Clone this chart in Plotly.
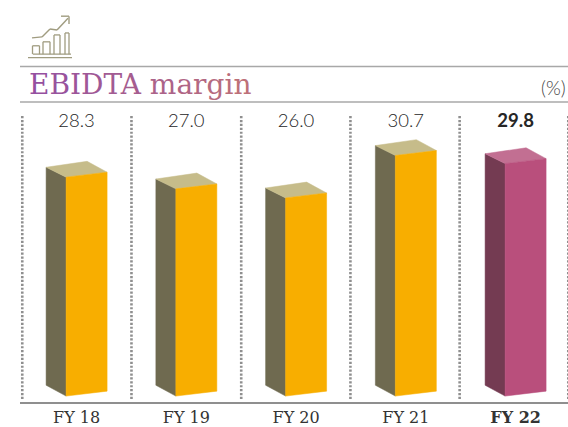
import plotly.graph_objects as go

categories = ["FY 18", "FY 19", "FY 20", "FY 21", "FY 22"]
values = [28.3, 27.0, 26.0, 30.7, 29.8]
value_labels = ["28.3", "27.0", "26.0", "30.7", "29.8"]
highlight = "FY 22"
title_text = "EBIDTA margin"
unit_text = "(%)"

W, H = 568, 427
L, R, T, B = 20, 0, 104, 21
X0_PX, PX_PER_CAT = 76.6, 109.75
BASE_PX, PX_PER_UNIT, BASE_VAL = 395, 9.15, 4.05

def fx(px):  # pixel offset -> category units
    return px / PX_PER_CAT
def fy(px):
    return px / PX_PER_UNIT

x_range = [(L - X0_PX) / PX_PER_CAT, (W - R - X0_PX) / PX_PER_CAT]
y_range = [BASE_VAL - (H - B - BASE_PX) / PX_PER_UNIT, BASE_VAL + (BASE_PX - T) / PX_PER_UNIT]

normal = dict(front="#F8AE00", side="#6F6A50", top="#C6BC8A")
accent = dict(front="#B94F7C", side="#743B52", top="#C26F92")

fig = go.Figure()

def poly(xs, ys, color):
    fig.add_trace(go.Scatter(x=xs, y=ys, mode="lines", fill="toself", fillcolor=color,
                             line=dict(color=color, width=0.5), hoverinfo="skip", showlegend=False))

for i, (c, v) in enumerate(zip(categories, values)):
    col = accent if c == highlight else normal
    xl, xr = i + fx(-10.5), i + fx(30.5)       # front face
    xb, xbr = i + fx(-30.5), i + fx(10.5)      # back edge
    top_r, top_l = v, v - fy(5)
    bot_r, bot_l = BASE_VAL, BASE_VAL - fy(5)
    poly([xb, xl, xl, xb, xb], [top_l + fy(10), top_l, bot_l, bot_l + fy(11), top_l + fy(10)], col["side"])
    poly([xb, xbr, xr, xl, xb], [top_l + fy(10), top_r + fy(11), top_r, top_l, top_l + fy(10)], col["top"])
    poly([xl, xr, xr, xl, xl], [top_l, top_r, bot_r, bot_l, top_l], col["front"])

# vertical dotted dividers
divider_positions = [-0.495, 0.5, 1.5, 2.495, 3.49, 4.48]
for d in divider_positions:
    fig.add_trace(go.Scatter(x=[d, d], y=[y_range[0] + fy(3), y_range[1] - fy(11)], mode="lines",
                             line=dict(color="#8f8f8f", width=2.6, dash="2.2px,1.7px"),
                             hoverinfo="skip", showlegend=False, cliponaxis=False))

# value labels
label_y = y_range[1] - fy(19)
fig.add_trace(go.Scatter(
    x=list(range(len(categories))), y=[label_y] * len(categories), mode="text",
    text=[f"<b>{t}</b>" if c == highlight else t for t, c in zip(value_labels, categories)],
    textposition="middle center",
    textfont=dict(family="Lato, sans-serif", size=18.5, color="#262626", weight=300),
    hoverinfo="skip", showlegend=False))

def xp(px): return (px - L) / (W - L - R)
def yp(px): return 1 - (px - T) / (H - T - B)

shapes = []
def line(x0, y0, x1, y1, color, width):
    shapes.append(dict(type="line", xref="paper", yref="paper", x0=xp(x0), x1=xp(x1), y0=yp(y0), y1=yp(y1),
                       line=dict(color=color, width=width), layer="above"))

line(20, 66, 568, 66, "#a8a8a8", 1.5)
line(20, 102, 568, 102, "#a8a8a8", 1.5)

# icon
ic = "#A09C80"
for seg in [(28, 57, 72, 57), (33, 53.5, 71, 53.5)]:
    line(*seg, ic, 1.3)
for x0, x1, top in [(32.5, 39.5, 45), (43, 50, 41), (54, 60, 34), (65, 69, 32)]:
    line(x0, top, x1, top, ic, 1.3)
    line(x0, top, x0, 53.5, ic, 1.3)
    line(x1, top, x1, 53.5, ic, 1.3)
arrow = [(32, 37), (42, 36), (50, 28), (57, 29), (68, 17)]
for a, b in zip(arrow, arrow[1:]):
    line(a[0], a[1], b[0], b[1], ic, 1.4)
line(61, 15, 69, 15, ic, 1.4)
line(69, 15, 69, 23, ic, 1.4)

# gradient title, one coloured span per letter
c0, c1 = (0x95, 0x50, 0xA0), (0xBD, 0x70, 0x78)
n = len(title_text) - 1
spans = ""
for k, ch in enumerate(title_text):
    rgb = tuple(round(a + (b - a) * k / n) for a, b in zip(c0, c1))
    spans += f'<span style="color:rgb{rgb}">{ch}</span>'

annotations = [
    dict(xref="paper", yref="paper", x=xp(27), y=yp(84), xanchor="left", yanchor="middle", showarrow=False,
         text=spans, font=dict(family="DejaVu Serif, serif", size=28)),
    dict(xref="paper", yref="paper", x=xp(568), y=yp(87), xanchor="right", yanchor="middle", showarrow=False,
         text=unit_text, font=dict(family="Lato, sans-serif", size=19, color="#444444", weight=300)),
]

fig.update_layout(
    width=W, height=H, margin=dict(l=L, r=R, t=T, b=B), autosize=False,
    paper_bgcolor="white", plot_bgcolor="white", showlegend=False,
    shapes=shapes, annotations=annotations,
    xaxis=dict(range=x_range, showgrid=False, zeroline=False, showline=True, linecolor="#8f8f8f", linewidth=1.5,
               tickmode="array", tickvals=list(range(len(categories))),
               ticktext=[f"<b>{c}</b>" if c == highlight else c for c in categories],
               ticks="", ticklen=0, tickfont=dict(family="DejaVu Serif, serif", size=16, color="#333333")),
    yaxis=dict(range=y_range, visible=False),
)
fig.write_html("out.html", post_script="document.body.style.margin='0';document.documentElement.style.overflow='hidden';",
               config={"displayModeBar": False})
